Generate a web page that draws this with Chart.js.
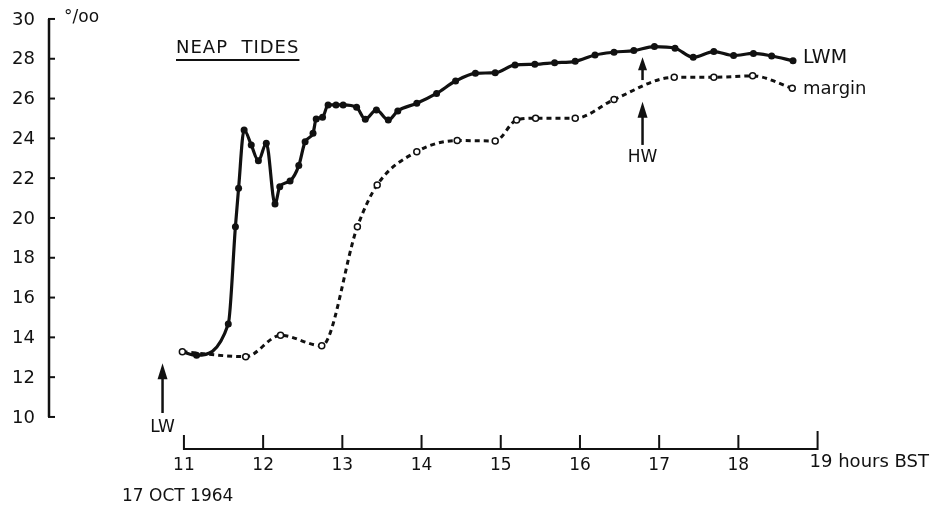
<!DOCTYPE html>
<html>
<head>
<meta charset="utf-8">
<title>Neap tides salinity</title>
<script src="https://cdn.jsdelivr.net/npm/chart.js@4"></script>
<style>
  html, body { margin:0; padding:0; background:#fff; }
  #wrap { width:943px; height:509px; position:relative; }
</style>
</head>
<body>
<div id="wrap"><canvas id="c"></canvas></div>
<script>
// salinity (parts per thousand) against time of day, 17 Oct 1964
const lwmHours = [10.98, 11.16, 11.56, 11.65, 11.69, 11.76, 11.85, 11.94, 12.04, 12.15, 12.21, 12.34, 12.45, 12.53, 12.63, 12.67, 12.75, 12.82, 12.92, 13.01, 13.18, 13.29, 13.43, 13.58, 13.70, 13.94, 14.19, 14.43, 14.68, 14.93, 15.18, 15.43, 15.68, 15.94, 16.19, 16.43, 16.68, 16.94, 17.20, 17.43, 17.69, 17.94, 18.19, 18.42, 18.69];
const lwmSal   = [13.28, 13.10, 14.67, 19.56, 21.49, 24.42, 23.67, 22.88, 23.75, 20.70, 21.57, 21.86, 22.63, 23.83, 24.26, 24.97, 25.06, 25.68, 25.68, 25.68, 25.56, 24.96, 25.43, 24.92, 25.38, 25.76, 26.26, 26.88, 27.27, 27.30, 27.69, 27.72, 27.80, 27.87, 28.19, 28.33, 28.41, 28.61, 28.53, 28.07, 28.36, 28.16, 28.27, 28.14, 27.90];

const marginHours = [10.98, 11.78, 12.22, 12.74, 13.19, 13.44, 13.94, 14.45, 14.93, 15.20, 15.44, 15.94, 16.43, 17.19, 17.69, 18.18, 18.68];
const marginSal   = [13.28, 13.03, 14.10, 13.58, 19.56, 21.66, 23.33, 23.89, 23.87, 24.92, 25.01, 25.01, 25.95, 27.07, 27.07, 27.14, 26.52];

const hourTicks = [11, 12, 13, 14, 15, 16, 17, 18, 19];
const salTicks  = [10, 12, 14, 16, 18, 20, 22, 24, 26, 28, 30];

// tide marks: [hour, arrow tip, arrow base]
const lowWater  = [10.73, 12.70, 10.20];
const highWater = [16.79, 25.84, 23.67];
const highWaterSmall = [16.79, 28.08, 26.93];

const INK = '#111';
const FONT = '"DejaVu Sans", sans-serif';

const pts = (xs, ys) => xs.map((x, i) => ({ x, y: ys[i] }));

function arrow(ctx, x, yTip, yBase, hw, hh){
  ctx.beginPath();
  ctx.moveTo(x, yBase); ctx.lineTo(x, yTip + hh - 1);
  ctx.lineWidth = 2.5; ctx.strokeStyle = INK; ctx.stroke();
  ctx.beginPath();
  ctx.moveTo(x, yTip); ctx.lineTo(x - hw/2, yTip + hh); ctx.lineTo(x + hw/2, yTip + hh); ctx.closePath();
  ctx.fillStyle = INK; ctx.fill();
}

// hand-drawn style axes and the lettering round the plot
const decor = {
  id: 'decor',
  afterDraw(chart){
    const ctx = chart.ctx, xs = chart.scales.x, ys = chart.scales.y;
    const L = chart.chartArea.left, B = chart.chartArea.bottom;
    ctx.save();
    ctx.strokeStyle = INK; ctx.fillStyle = INK; ctx.lineCap = 'butt';

    // salinity axis, ticks pointing inwards
    ctx.lineWidth = 2.5;
    ctx.beginPath();
    ctx.moveTo(L, ys.getPixelForValue(salTicks[0]));
    ctx.lineTo(L, ys.getPixelForValue(salTicks[salTicks.length - 1]));
    ctx.stroke();
    ctx.lineWidth = 2;
    salTicks.forEach(v => {
      const y = ys.getPixelForValue(v);
      ctx.beginPath(); ctx.moveTo(L - 1, y); ctx.lineTo(L + 6, y); ctx.stroke();
    });

    // time axis, only 11 to 19 h
    ctx.lineWidth = 2;
    ctx.beginPath();
    ctx.moveTo(xs.getPixelForValue(11), B); ctx.lineTo(xs.getPixelForValue(19), B);
    ctx.stroke();
    hourTicks.forEach(h => {
      const x = xs.getPixelForValue(h);
      ctx.beginPath(); ctx.moveTo(x, B + 1); ctx.lineTo(x, B - (h === 19 ? 18 : 14)); ctx.stroke();
    });

    ctx.font = '18px ' + FONT;
    ctx.textBaseline = 'middle';
    ctx.textAlign = 'left';
    ctx.fillText('19 hours BST', xs.getPixelForValue(19) - 8, B + 13);
    ctx.font = '17px ' + FONT;
    ctx.fillText('17 OCT 1964', 122, 497);
    ctx.fillText('°/oo', 64, 18);

    // title, underlined
    ctx.font = '18px ' + FONT;
    ctx.letterSpacing = '1px';
    const title = 'NEAP  TIDES';
    ctx.fillText(title, 176, 48);
    const tw = ctx.measureText(title).width;
    ctx.letterSpacing = '0px';
    ctx.lineWidth = 2;
    ctx.beginPath(); ctx.moveTo(176, 60); ctx.lineTo(176 + tw, 60); ctx.stroke();

    // series names at the line ends
    const endX = xs.getPixelForValue(lwmHours[lwmHours.length - 1]) + 10;
    ctx.font = '19px ' + FONT;
    ctx.fillText('LWM', endX, ys.getPixelForValue(lwmSal[lwmSal.length - 1]) - 3);
    ctx.font = '18px ' + FONT;
    ctx.fillText('margin', endX, ys.getPixelForValue(marginSal[marginSal.length - 1]) + 1);

    // low and high water arrows
    ctx.font = '17px ' + FONT;
    ctx.textAlign = 'center';
    let x = xs.getPixelForValue(lowWater[0]);
    arrow(ctx, x, ys.getPixelForValue(lowWater[1]), ys.getPixelForValue(lowWater[2]), 10, 16);
    ctx.fillText('LW', x, ys.getPixelForValue(lowWater[2]) + 15);

    x = xs.getPixelForValue(highWater[0]);
    arrow(ctx, x, ys.getPixelForValue(highWaterSmall[1]), ys.getPixelForValue(highWaterSmall[2]), 9, 13);
    arrow(ctx, x, ys.getPixelForValue(highWater[1]), ys.getPixelForValue(highWater[2]), 10, 16);
    ctx.fillText('HW', x, ys.getPixelForValue(highWater[2]) + 13);

    ctx.restore();
  }
};

// tick numbers for both scales
const tickLabels = {
  id: 'tickLabels',
  afterDraw(chart){
    const ctx = chart.ctx, xs = chart.scales.x, ys = chart.scales.y;
    ctx.save();
    ctx.fillStyle = INK;
    ctx.font = '18px ' + FONT;
    ctx.textAlign = 'right'; ctx.textBaseline = 'middle';
    salTicks.forEach(v => ctx.fillText(String(v), 35, ys.getPixelForValue(v) + 1));
    ctx.font = '17px ' + FONT;
    ctx.textAlign = 'center';
    hourTicks.slice(0, -1).forEach(h => ctx.fillText(String(h), xs.getPixelForValue(h), chart.chartArea.bottom + 17));
    ctx.restore();
  }
};

new Chart(document.getElementById('c'), {
  type: 'line',
  data: {
    datasets: [
      {
        label: 'margin',
        data: pts(marginHours, marginSal),
        borderColor: INK, borderWidth: 3, borderDash: [5, 4],
        pointRadius: 3, pointBorderWidth: 1.5,
        pointBackgroundColor: '#fff', pointBorderColor: INK,
        cubicInterpolationMode: 'monotone', fill: false
      },
      {
        label: 'LWM',
        data: pts(lwmHours, lwmSal),
        borderColor: INK, borderWidth: 3.2,
        pointRadius: c => c.dataIndex === 0 ? 0 : 3.5, pointBorderWidth: 0,
        pointBackgroundColor: INK,
        cubicInterpolationMode: 'monotone', fill: false
      }
    ]
  },
  options: {
    responsive: true,
    maintainAspectRatio: false,
    animation: false,
    layout: { padding: { left: 49, top: 10, right: 5, bottom: 60 } },
    plugins: { legend: { display: false }, tooltip: { enabled: false } },
    scales: {
      x: { type: 'linear', display: false, min: 9.2965, max: 20.514 },
      y: { type: 'linear', display: false, min: 8.39, max: 30.45 }
    }
  },
  plugins: [decor, tickLabels]
});
</script>
</body>
</html>
